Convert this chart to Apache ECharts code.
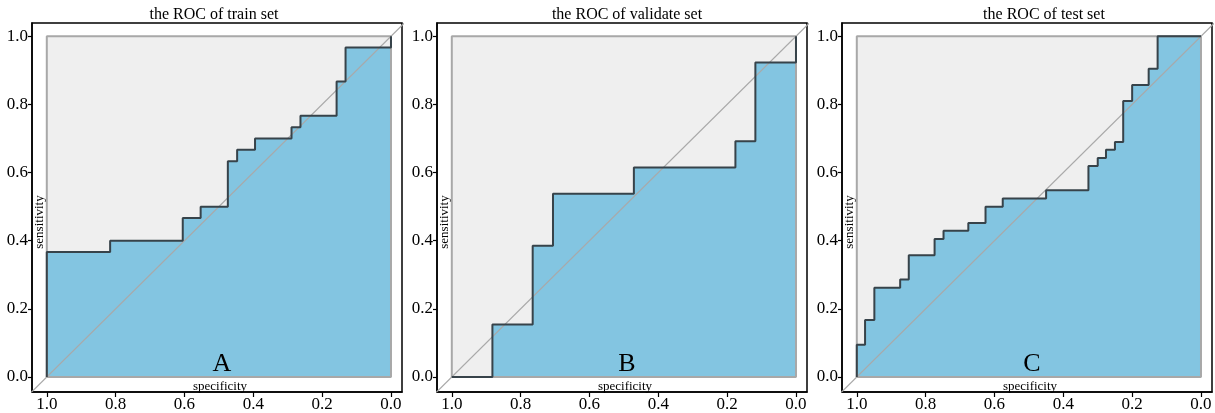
<!DOCTYPE html>
<html>
<head>
<meta charset="utf-8">
<script src="https://cdn.jsdelivr.net/npm/echarts@6/dist/echarts.min.js"></script>
<style>
  html, body { margin: 0; padding: 0; background: #fff; }
  #chart { width: 1215px; height: 413px; }
</style>
</head>
<body>
<div id="chart"></div>
<script>
// ROC points (specificity, sensitivity), left to right
const trainSpec = [1, 1, 0.816, 0.605, 0.553, 0.474, 0.447, 0.395, 0.289, 0.263, 0.158, 0.132, 0]
const trainSens = [0, 0.367, 0.4, 0.467, 0.5, 0.633, 0.667, 0.7, 0.733, 0.767, 0.867, 0.967, 1]

const validSpec = [1, 0.882, 0.765, 0.706, 0.471, 0.176, 0.118, 0]
const validSens = [0, 0.154, 0.385, 0.538, 0.615, 0.692, 0.923, 1]

const testSpec = [1, 1, 0.976, 0.949, 0.874, 0.849, 0.774, 0.748, 0.676, 0.626, 0.576, 0.45, 0.327, 0.3, 0.276, 0.25, 0.226, 0.2, 0.152, 0.126, 0]
const testSens = [0, 0.095, 0.167, 0.262, 0.286, 0.357, 0.405, 0.429, 0.452, 0.5, 0.524, 0.548, 0.619, 0.643, 0.667, 0.69, 0.81, 0.857, 0.905, 1, 1]

const titles = ['the ROC of train set', 'the ROC of validate set', 'the ROC of test set']
const letters = ['A', 'B', 'C']
const tickValues = [0, 0.2, 0.4, 0.6, 0.8, 1.0]

const panels = [
  { spec: trainSpec, sens: trainSens },
  { spec: validSpec, sens: validSens },
  { spec: testSpec, sens: testSens }
]

// layout
const frameLeft = [32, 437, 842]
const titleX = [214, 627, 1044]
const frameTop = 23
const frameW = 370
const frameH = 372
const font = 'Liberation Serif'

// turn ROC points into staircase corners (horizontal first, then up)
function stairs (spec, sens) {
  let pts = [[spec[0], sens[0]]]
  for (let i = 1; i < spec.length; i++) {
    pts.push([spec[i], sens[i - 1]])
    pts.push([spec[i], sens[i]])
  }
  return pts
}

let grid = []
let xAxis = []
let yAxis = []
let series = []
let graphic = []

panels.forEach((p, i) => {
  grid.push({
    left: frameLeft[i],
    top: frameTop,
    width: frameW,
    height: frameH,
    show: true,
    borderColor: '#000',
    borderWidth: 1.5,
    backgroundColor: '#fff'
  })
  xAxis.push({
    gridIndex: i,
    type: 'value',
    inverse: true,
    min: -0.032,
    max: 1.043,
    axisLine: { show: true, onZero: false, lineStyle: { color: '#000', width: 1.5 } },
    axisTick: { show: true, customValues: tickValues, length: 5, lineStyle: { color: '#000', width: 1.2 } },
    axisLabel: {
      customValues: tickValues,
      formatter: v => v.toFixed(1),
      color: '#000',
      fontFamily: font,
      fontSize: 17,
      margin: 4
    },
    splitLine: { show: false }
  })
  yAxis.push({
    gridIndex: i,
    type: 'value',
    min: -0.044,
    max: 1.039,
    axisLine: { show: true, onZero: false, lineStyle: { color: '#000', width: 1.5 } },
    axisTick: { show: true, customValues: tickValues, length: 4, lineStyle: { color: '#000', width: 1.2 } },
    axisLabel: {
      customValues: tickValues,
      formatter: v => v.toFixed(1),
      color: '#000',
      fontFamily: font,
      fontSize: 17,
      margin: 4
    },
    splitLine: { show: false }
  })

  const pts = stairs(p.spec, p.sens)

  // gray unit square
  series.push({
    type: 'line',
    xAxisIndex: i,
    yAxisIndex: i,
    data: [[1, 1], [0, 1]],
    symbol: 'none',
    silent: true,
    lineStyle: { width: 0 },
    areaStyle: { color: '#efefef', opacity: 1 },
    z: 1
  })
  // area under the curve
  series.push({
    type: 'line',
    xAxisIndex: i,
    yAxisIndex: i,
    data: pts,
    symbol: 'none',
    silent: true,
    lineStyle: { width: 0 },
    areaStyle: { color: '#83c5e1', opacity: 1 },
    z: 2
  })
  // border of unit square
  series.push({
    type: 'line',
    xAxisIndex: i,
    yAxisIndex: i,
    data: [[1, 0], [1, 1], [0, 1], [0, 0], [1, 0]],
    symbol: 'none',
    silent: true,
    lineStyle: { color: '#a8a8a8', width: 2 },
    z: 3
  })
  // chance diagonal
  series.push({
    type: 'line',
    xAxisIndex: i,
    yAxisIndex: i,
    data: [[1.1, -0.1], [-0.1, 1.1]],
    symbol: 'none',
    silent: true,
    lineStyle: { color: '#a9a9a9', width: 1.2 },
    z: 3
  })
  // ROC curve
  series.push({
    type: 'line',
    xAxisIndex: i,
    yAxisIndex: i,
    data: pts,
    symbol: 'none',
    silent: true,
    lineStyle: { color: '#37434a', width: 2 },
    z: 4
  })

  graphic.push({
    type: 'text',
    x: titleX[i],
    y: 15,
    style: { text: titles[i], fill: '#000', font: '16px "Liberation Serif"', textAlign: 'center', textVerticalAlign: 'middle' },
    z: 10
  })
  graphic.push({
    type: 'text',
    x: frameLeft[i] + 8,
    y: 222,
    rotation: Math.PI / 2,
    style: { text: 'sensitivity', fill: '#000', font: '13px "Liberation Serif"', textAlign: 'center', textVerticalAlign: 'middle' },
    z: 10
  })
  graphic.push({
    type: 'text',
    x: frameLeft[i] + 188,
    y: 387,
    style: { text: 'specificity', fill: '#000', font: '13px "Liberation Serif"', textAlign: 'center', textVerticalAlign: 'middle' },
    z: 10
  })
  graphic.push({
    type: 'text',
    x: frameLeft[i] + 190,
    y: 364,
    style: { text: letters[i], fill: '#000', font: '26px "Liberation Serif"', textAlign: 'center', textVerticalAlign: 'middle' },
    z: 10
  })
})

const myChart = echarts.init(document.getElementById('chart'))
myChart.setOption({
  animation: false,
  backgroundColor: '#fff',
  grid: grid,
  xAxis: xAxis,
  yAxis: yAxis,
  series: series,
  graphic: graphic
})
</script>
</body>
</html>
